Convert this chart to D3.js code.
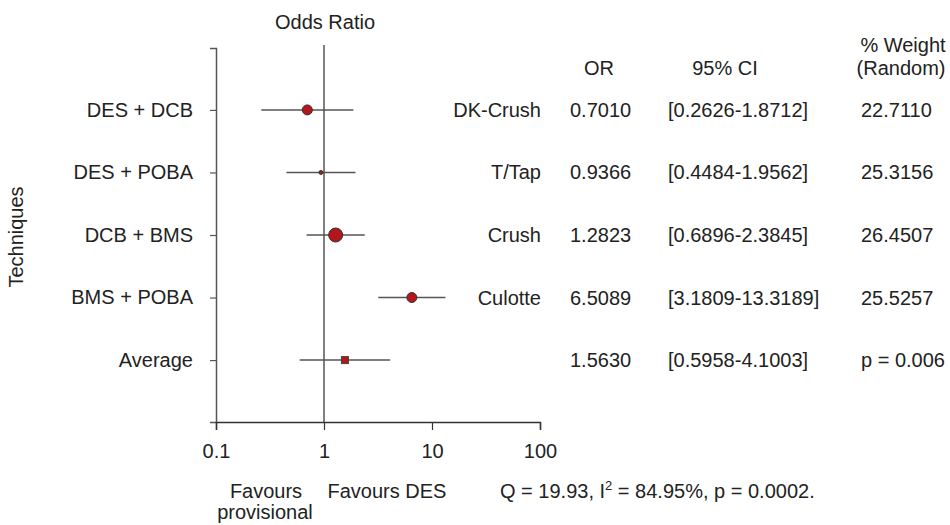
<!DOCTYPE html>
<html>
<head>
<meta charset="utf-8">
<script src="https://cdn.jsdelivr.net/npm/d3@7"></script>
<style>
  body { margin: 0; background: #fff; }
  text { font-family: "Liberation Sans", Arial, sans-serif; fill: #222; }
</style>
</head>
<body>
<div id="forest"></div>
<script>
// values
const techniques = ["DES + DCB", "DES + POBA", "DCB + BMS", "BMS + POBA", "Average"]
const studies = ["DK-Crush", "T/Tap", "Crush", "Culotte", ""]
const oddsRatio = [0.7010, 0.9366, 1.2823, 6.5089, 1.5630]
const ciLow = [0.2626, 0.4484, 0.6896, 3.1809, 0.5958]
const ciHigh = [1.8712, 1.9562, 2.3845, 13.3189, 4.1003]
const weightText = ["22.7110", "25.3156", "26.4507", "25.5257", "p = 0.006"]
const markerSize = [5, 2, 7, 5, 3.5]
const xTicks = [0.1, 1, 10, 100]

const width = 950, height = 525
const fs = 20

const svg = d3.select("#forest").append("svg")
    .attr("width", width)
    .attr("height", height)

const x = d3.scaleLog().domain([0.1, 100]).range([216, 540])
const y = d3.scalePoint().domain(techniques).range([48, 422]).padding(0.99)

const rows = techniques.map((t, i) => ({
    technique: t,
    study: studies[i],
    or: oddsRatio[i],
    lo: ciLow[i],
    hi: ciHigh[i],
    weight: weightText[i],
    r: markerSize[i],
    average: t === "Average"
}))

// left axis
const yAxis = svg.append("g")
    .attr("transform", "translate(216,0)")
    .call(d3.axisLeft(y).tickSizeOuter(0).tickSize(6).tickPadding(17))
yAxis.select(".domain").attr("stroke", "#555").attr("stroke-width", 1.5)
yAxis.selectAll(".tick line").attr("stroke", "#555").attr("stroke-width", 1.2)
yAxis.selectAll(".tick text").style("font-size", fs + "px").attr("fill", "#222")

// bottom axis
const xAxis = svg.append("g")
    .attr("transform", "translate(0,422)")
    .call(d3.axisBottom(x).tickValues(xTicks).tickFormat(d3.format("")).tickSizeOuter(0).tickSize(8).tickPadding(14))
xAxis.select(".domain").attr("stroke", "#333").attr("stroke-width", 1.5)
xAxis.selectAll(".tick line").attr("stroke", "#333").attr("stroke-width", 1.2)
xAxis.selectAll(".tick text").style("font-size", fs + "px").attr("fill", "#222")

// line of no effect
svg.append("line")
    .attr("x1", x(1)).attr("x2", x(1))
    .attr("y1", 45).attr("y2", 422)
    .attr("stroke", "#555").attr("stroke-width", 1.5)

// CI whiskers
svg.selectAll(".ci")
    .data(rows)
    .enter()
    .append("line")
    .attr("class", "ci")
    .attr("x1", d => x(d.lo))
    .attr("x2", d => x(d.hi))
    .attr("y1", d => y(d.technique))
    .attr("y2", d => y(d.technique))
    .attr("stroke", "#555")
    .attr("stroke-width", 1.5)

// study markers
svg.selectAll(".pt")
    .data(rows.filter(d => !d.average))
    .enter()
    .append("circle")
    .attr("class", "pt")
    .attr("cx", d => x(d.or))
    .attr("cy", d => y(d.technique))
    .attr("r", d => d.r)
    .attr("fill", "#b3161b")
    .attr("stroke", "#333")
    .attr("stroke-width", 1)

// pooled estimate
svg.selectAll(".avg")
    .data(rows.filter(d => d.average))
    .enter()
    .append("rect")
    .attr("class", "avg")
    .attr("x", d => x(d.or) - d.r)
    .attr("y", d => y(d.technique) - d.r)
    .attr("width", d => d.r * 2)
    .attr("height", d => d.r * 2)
    .attr("fill", "#b3161b")
    .attr("stroke", "#444")
    .attr("stroke-width", 1)

// table columns
const rowText = (cls, xpos, anchor, f) => svg.selectAll("." + cls)
    .data(rows)
    .enter()
    .append("text")
    .attr("class", cls)
    .attr("x", xpos)
    .attr("y", d => y(d.technique))
    .attr("dy", "0.35em")
    .attr("text-anchor", anchor)
    .style("font-size", fs + "px")
    .text(f)

rowText("study", 541, "end", d => d.study)
rowText("orv", 570, "start", d => d.or.toFixed(4))
rowText("civ", 668, "start", d => "[" + d.lo.toFixed(4) + "-" + d.hi.toFixed(4) + "]")
rowText("wv", 861, "start", d => d.weight)

// headers and labels
const label = (txt, xpos, ypos, anchor) => svg.append("text")
    .attr("x", xpos).attr("y", ypos)
    .attr("text-anchor", anchor || "middle")
    .style("font-size", fs + "px")
    .text(txt)

label("Odds Ratio", 325, 29)
label("OR", 599, 75)
label("95% CI", 725, 75)
label("% Weight", 903, 52)
label("(Random)", 901, 75)
label("Favours", 266, 498)
label("provisional", 265, 519)
label("Favours DES", 387, 498)

svg.append("text")
    .attr("transform", "translate(23,237) rotate(-90)")
    .attr("text-anchor", "middle")
    .style("font-size", fs + "px")
    .text("Techniques")

// heterogeneity
const q = svg.append("text")
    .attr("x", 500).attr("y", 498)
    .style("font-size", fs + "px")
q.append("tspan").text("Q = 19.93, I")
q.append("tspan").attr("dy", -8).style("font-size", "13px").text("2")
q.append("tspan").attr("dy", 8).text(" = 84.95%, p = 0.0002.")
</script>
</body>
</html>
